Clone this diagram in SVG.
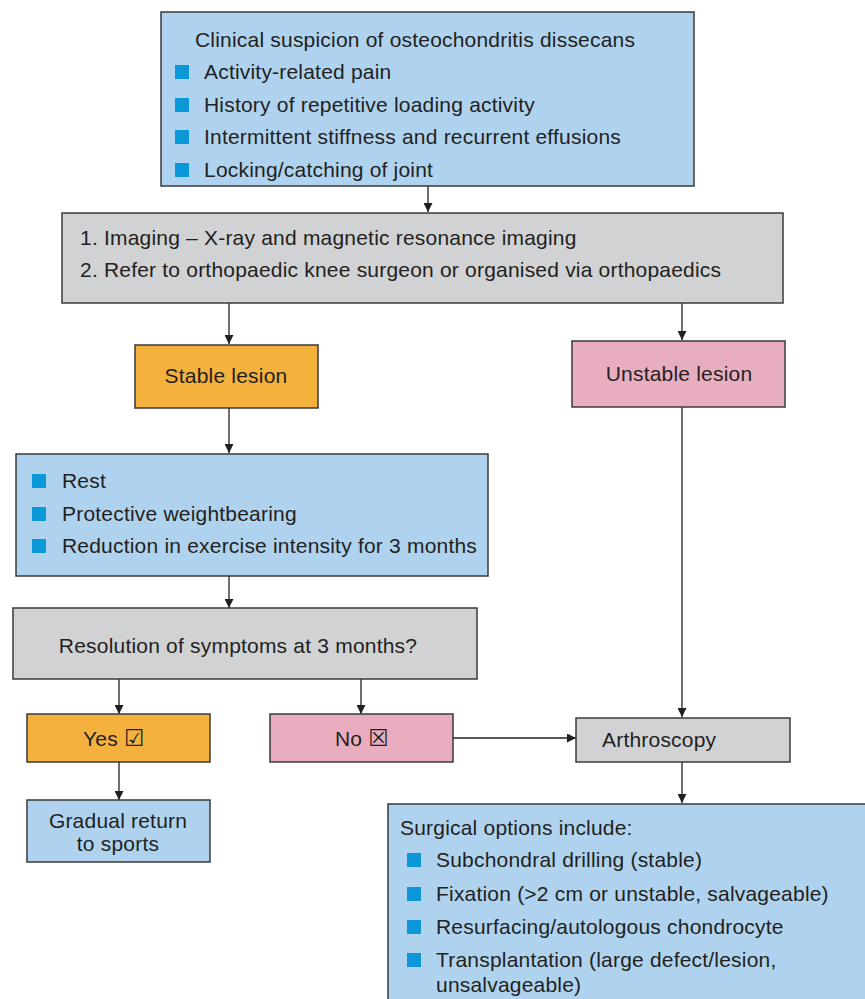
<svg xmlns="http://www.w3.org/2000/svg" width="865" height="999" viewBox="0 0 865 999">
<defs>
<marker id="ah" viewBox="0 0 10 10" refX="10" refY="5" markerWidth="9" markerHeight="9" markerUnits="userSpaceOnUse" orient="auto">
<path d="M0,0 L10,5 L0,10 z" fill="#231f20"/>
</marker>
<style>
.box{stroke:#3a3a3a;stroke-width:1.5}
.blue{fill:#afd3ef}
.gray{fill:#d1d2d4}
.orange{fill:#f4b13e}
.pink{fill:#e8aec0}
.bul{fill:#0a98d8}
text{font-family:"Liberation Sans",Arial,sans-serif;font-size:21px;fill:#231f20;letter-spacing:0.2px}
.c{text-anchor:middle}
.sym{font-family:"DejaVu Sans",sans-serif;font-size:23px;font-weight:bold;letter-spacing:0}
.conn{stroke:#231f20;stroke-width:1.3;fill:none;marker-end:url(#ah)}
</style>
</defs>
<rect width="865" height="999" fill="#ffffff"/>

<g id="connectors">
<line class="conn" x1="428" y1="186" x2="428" y2="212"/>
<line class="conn" x1="229" y1="303" x2="229" y2="344"/>
<line class="conn" x1="682" y1="303" x2="682" y2="340"/>
<line class="conn" x1="229" y1="408" x2="229" y2="453"/>
<line class="conn" x1="229" y1="576" x2="229" y2="608"/>
<line class="conn" x1="119" y1="679" x2="119" y2="714"/>
<line class="conn" x1="361" y1="679" x2="361" y2="714"/>
<line class="conn" x1="453" y1="738" x2="576" y2="738"/>
<line class="conn" x1="682" y1="407" x2="682" y2="717"/>
<line class="conn" x1="119" y1="762" x2="119" y2="800"/>
<line class="conn" x1="682" y1="762" x2="682" y2="803"/>
</g>

<g id="suspicion">
<rect class="box blue" x="161" y="12" width="533" height="174"/>
<text x="195" y="47">Clinical suspicion of osteochondritis dissecans</text>
<rect class="bul" x="175" y="65" width="14" height="14"/>
<text x="204" y="79">Activity-related pain</text>
<rect class="bul" x="175" y="98" width="14" height="14"/>
<text x="204" y="112">History of repetitive loading activity</text>
<rect class="bul" x="175" y="130" width="14" height="14"/>
<text x="204" y="144">Intermittent stiffness and recurrent effusions</text>
<rect class="bul" x="175" y="163" width="14" height="14"/>
<text x="204" y="177">Locking/catching of joint</text>
</g>

<g id="imaging">
<rect class="box gray" x="62" y="213" width="721" height="90"/>
<text x="80" y="245">1. Imaging – X-ray and magnetic resonance imaging</text>
<text x="80" y="277">2. Refer to orthopaedic knee surgeon or organised via orthopaedics</text>
</g>

<g id="stable">
<rect class="box orange" x="135" y="345" width="183" height="63"/>
<text class="c" x="226" y="383">Stable lesion</text>
</g>

<g id="unstable">
<rect class="box pink" x="572" y="341" width="213" height="66"/>
<text class="c" x="679" y="381">Unstable lesion</text>
</g>

<g id="conservative">
<rect class="box blue" x="16" y="454" width="472" height="122"/>
<rect class="bul" x="32" y="474" width="14" height="14"/>
<text x="62" y="488">Rest</text>
<rect class="bul" x="32" y="507" width="14" height="14"/>
<text x="62" y="521">Protective weightbearing</text>
<rect class="bul" x="32" y="539" width="14" height="14"/>
<text x="62" y="553">Reduction in exercise intensity for 3 months</text>
</g>

<g id="resolution">
<rect class="box gray" x="13" y="608" width="464" height="71"/>
<text class="c" x="238" y="653">Resolution of symptoms at 3 months?</text>
</g>

<g id="yes">
<rect class="box orange" x="27" y="714" width="183" height="48"/>
<text x="83" y="746">Yes <tspan class="sym">☑</tspan></text>
</g>

<g id="no">
<rect class="box pink" x="270" y="714" width="183" height="48"/>
<text x="335" y="746">No <tspan class="sym">☒</tspan></text>
</g>

<g id="arthroscopy">
<rect class="box gray" x="576" y="718" width="214" height="44"/>
<text x="602" y="747">Arthroscopy</text>
</g>

<g id="gradual">
<rect class="box blue" x="27" y="800" width="183" height="62"/>
<text class="c" x="118" y="828">Gradual return</text>
<text class="c" x="118" y="851">to sports</text>
</g>

<g id="surgical">
<rect class="box blue" x="388" y="804" width="500" height="220"/>
<text x="400" y="835">Surgical options include:</text>
<rect class="bul" x="407" y="853" width="14" height="14"/>
<text x="436" y="867">Subchondral drilling (stable)</text>
<rect class="bul" x="407" y="887" width="14" height="14"/>
<text x="436" y="901">Fixation (&gt;2 cm or unstable, salvageable)</text>
<rect class="bul" x="407" y="920" width="14" height="14"/>
<text x="436" y="934">Resurfacing/autologous chondrocyte</text>
<rect class="bul" x="407" y="953" width="14" height="14"/>
<text x="436" y="967">Transplantation (large defect/lesion,</text>
<text x="436" y="992">unsalvageable)</text>
</g>
</svg>
